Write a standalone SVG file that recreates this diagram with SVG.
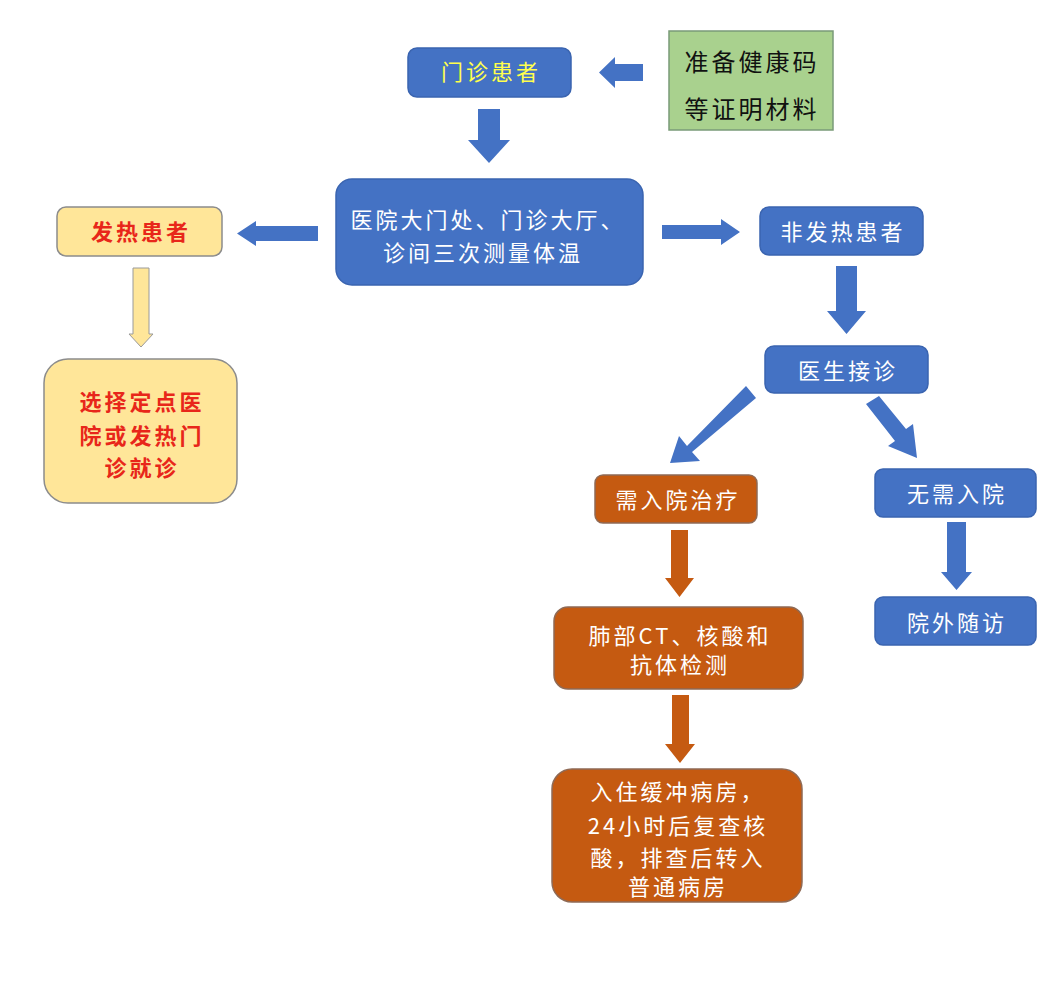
<svg xmlns="http://www.w3.org/2000/svg" width="1043" height="987" viewBox="0 0 1043 987">
<style>
.blue{fill:#4472c4;stroke:#3a64b0;stroke-width:1.5}
.orange{fill:#c55a11;stroke:#8f6a55;stroke-width:1.5}
.yellow{fill:#ffe699;stroke:#8c8c8c;stroke-width:1.5}
.green{fill:#a9d18e;stroke:#7a9a78;stroke-width:1.5}
.t{font-family:"Noto Sans CJK SC","Noto Sans CJK TC",sans-serif;font-size:22px;text-anchor:middle;letter-spacing:3px}
.w{fill:#ffffff}
.r{fill:#e8261a;font-weight:bold}
.y{fill:#ffff4d}
.k{fill:#111111;font-size:24px}
.ab{fill:#4472c4}
.ao{fill:#c55a11}
.ay{fill:#ffe699;stroke:#9a9a9a;stroke-width:1}
</style>
<rect width="1043" height="987" fill="#ffffff"/>
<g id="connectors">
<polygon class="ab" points="643,64 615,64 615,57 599,72.5 615,88 615,81 643,81"/>
<polygon class="ab" points="478,109 500,109 500,140 510,140 489,163 468,140 478,140"/>
<polygon class="ab" points="318,226 256,226 256,221 237,233.5 256,246 256,241 318,241"/>
<polygon class="ab" points="662,225 721,225 721,219 740,232 721,245 721,239 662,239"/>
<polygon class="ay" points="133,268 149,268 149,334 153,334 141,347 129,334 133,334"/>
<polygon class="ab" points="836,266 857,266 857,311 866,311 846.5,334 827,311 836,311"/>
<polygon class="ab" points="746,386 756,398 692,452 700,461 670,463 679,436 687,446"/>
<polygon class="ab" points="866,404 879,396 906,429 913,424 917,458 888,446 895,441"/>
<polygon class="ao" points="671,530 688,530 688,578 694,578 679.5,597 665,578 671,578"/>
<polygon class="ab" points="947,522 966,522 966,572 972,572 956.5,590 941,572 947,572"/>
<polygon class="ao" points="672,695 689,695 689,744 695,744 680,763 665,744 672,744"/>
</g>
<g id="n1"><rect class="blue" x="408" y="48" width="163" height="49" rx="9"/><text class="t y" x="491" y="80">门诊患者</text></g>
<g id="n2"><rect class="green" x="669" y="31" width="164" height="99"/><text class="t k" x="752" y="71">准备健康码</text><text class="t k" x="752" y="118">等证明材料</text></g>
<g id="n3"><rect class="blue" x="336" y="179" width="307" height="106" rx="16"/><text class="t w" x="488" y="228">医院大门处、门诊大厅、</text><text class="t w" x="483" y="261">诊间三次测量体温</text></g>
<g id="n4"><rect class="yellow" x="57" y="207" width="165" height="49" rx="9"/><text class="t r" x="141" y="240">发热患者</text></g>
<g id="n5"><rect class="yellow" x="44" y="359" width="193" height="144" rx="24"/><text class="t r" x="142" y="410">选择定点医</text><text class="t r" x="142" y="444">院或发热门</text><text class="t r" x="142" y="476">诊就诊</text></g>
<g id="n6"><rect class="blue" x="760" y="207" width="163" height="48" rx="9"/><text class="t w" x="843" y="240">非发热患者</text></g>
<g id="n7"><rect class="blue" x="765" y="346" width="163" height="47" rx="9"/><text class="t w" x="848" y="379">医生接诊</text></g>
<g id="n8"><rect class="orange" x="595" y="475" width="162" height="48" rx="8"/><text class="t w" x="678" y="508">需入院治疗</text></g>
<g id="n9"><rect class="blue" x="875" y="469" width="161" height="48" rx="8"/><text class="t w" x="957" y="502">无需入院</text></g>
<g id="n10"><rect class="blue" x="875" y="597" width="161" height="48" rx="8"/><text class="t w" x="957" y="631">院外随访</text></g>
<g id="n11"><rect class="orange" x="554" y="607" width="249" height="82" rx="14"/><text class="t w" x="680" y="644">肺部CT、核酸和</text><text class="t w" x="680" y="673">抗体检测</text></g>
<g id="n12"><rect class="orange" x="552" y="769" width="250" height="133" rx="20"/><text class="t w" x="678" y="800">入住缓冲病房，</text><text class="t w" x="678" y="834">24小时后复查核</text><text class="t w" x="678" y="866">酸，排查后转入</text><text class="t w" x="678" y="895">普通病房</text></g>
</svg>
